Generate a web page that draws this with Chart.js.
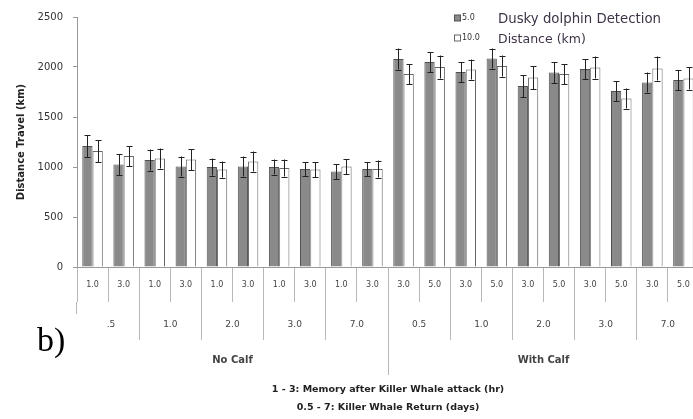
<!DOCTYPE html>
<html>
<head>
<meta charset="utf-8">
<script src="https://cdn.jsdelivr.net/npm/chart.js@4.4.1/dist/chart.umd.min.js"></script>
<style>
  html, body { margin: 0; padding: 0; background: #fff; overflow: hidden; width: 693px; height: 419px; }
  #wrap { position: relative; width: 700px; height: 419px; }
</style>
</head>
<body>
<div id="wrap"><canvas id="c" width="700" height="419"></canvas></div>
<script>
// Innermost axis level: memory after killer whale attack (hr)
const memoryHours = ['1.0','3.0','1.0','3.0','1.0','3.0','1.0','3.0','1.0','3.0',
                     '3.0','5.0','3.0','5.0','3.0','5.0','3.0','5.0','3.0','5.0'];
// Middle axis level: killer whale return (days)
const returnDays = ['0.5','1.0','2.0','3.0','7.0','0.5','1.0','2.0','3.0','7.0'];
// Outer axis level
const calfGroups = ['No Calf', 'With Calf'];

// Detection distance series (km)
const seriesLabels = ['5.0', '10.0'];
const dist5  = [1210, 1025, 1070, 1005, 1000, 1005, 1000, 980, 955, 980,
                2080, 2050, 1950, 2085, 1810, 1945, 1980, 1760, 1845, 1870];
const err5   = [110, 105, 105, 100, 85, 100, 75, 70, 75, 70,
                105, 100, 100, 100, 110, 105, 100, 100, 100, 100];
const dist10 = [1160, 1110, 1085, 1075, 975, 1055, 990, 975, 1005, 980,
                1930, 2000, 1975, 2010, 1895, 1930, 1995, 1685, 1985, 1885];
const err10  = [110, 100, 100, 105, 80, 100, 85, 75, 75, 85,
                100, 115, 100, 105, 115, 100, 110, 100, 120, 110];

const yTicks = [0, 500, 1000, 1500, 2000, 2500];
const legendTitle = ['Dusky dolphin Detection', 'Distance (km)'];
const yTitle = 'Distance Travel (km)';
const xTitle = ['1 - 3: Memory after Killer Whale attack (hr)', '0.5 - 7: Killer Whale Return (days)'];
const panelTag = 'b)';

const FONT = '"DejaVu Sans", sans-serif';

// Symmetric error bars on each bar, from the dataset's own errors array
const errorBars = {
  id: 'errorBars',
  afterDatasetsDraw(chart) {
    const { ctx } = chart;
    const y = chart.scales.y;
    ctx.save();
    ctx.strokeStyle = '#222';
    ctx.lineWidth = 1;
    chart.data.datasets.forEach((ds, di) => {
      const meta = chart.getDatasetMeta(di);
      meta.data.forEach((bar, i) => {
        const v = ds.data[i], e = ds.errors[i];
        const x = Math.round(bar.x) + 0.5;
        const yt = y.getPixelForValue(v + e);
        const yb = y.getPixelForValue(v - e);
        ctx.beginPath();
        ctx.moveTo(x, yt); ctx.lineTo(x, yb);
        ctx.moveTo(x - 3, Math.round(yt) + 0.5); ctx.lineTo(x + 3, Math.round(yt) + 0.5);
        ctx.moveTo(x - 3, Math.round(yb) + 0.5); ctx.lineTo(x + 3, Math.round(yb) + 0.5);
        ctx.stroke();
      });
    });
    ctx.restore();
  }
};

// Legend in the top right, plus the panel tag
const annotations = {
  id: 'annotations',
  afterDraw(chart) {
    const { ctx } = chart;
    ctx.save();
    const ds = chart.data.datasets;
    const rows = [18, 38];
    ds.forEach((d, i) => {
      ctx.fillStyle = d.backgroundColor;
      ctx.strokeStyle = d.borderColor;
      ctx.lineWidth = 1;
      ctx.fillRect(454.5, rows[i] - 3, 6, 6);
      ctx.strokeRect(454.5, rows[i] - 3, 6, 6);
      ctx.fillStyle = '#333';
      ctx.font = '8px ' + FONT;
      ctx.textBaseline = 'middle';
      ctx.textAlign = 'left';
      ctx.fillText(d.label, 462, rows[i]);
    });
    ctx.fillStyle = '#3f3448';
    ctx.font = '13.3px ' + FONT;
    ctx.fillText(legendTitle[0], 498, 20);
    ctx.font = '12.5px ' + FONT;
    ctx.fillText(legendTitle[1], 498, 40);

    ctx.fillStyle = '#fff';
    ctx.fillRect(0, 314, 106, 63);
    ctx.fillStyle = '#000';
    ctx.font = '34px "Liberation Serif", serif';
    ctx.textBaseline = 'alphabetic';
    ctx.fillText(panelTag, 37, 351);
    ctx.restore();
  }
};

const gridCol = '#b8b8b8';

new Chart(document.getElementById('c'), {
  type: 'bar',
  data: {
    labels: memoryHours,
    datasets: [
      { label: seriesLabels[0], data: dist5, errors: err5,
        backgroundColor: '#8a8a8a', borderColor: '#505050', borderWidth: 1 },
      { label: seriesLabels[1], data: dist10, errors: err10,
        backgroundColor: '#ffffff', borderColor: '#666', borderWidth: 1 }
    ]
  },
  options: {
    responsive: false,
    animation: false,
    devicePixelRatio: 1,
    layout: { padding: { top: 17, right: 1, left: 0, bottom: 0 } },
    categoryPercentage: 0.66,
    barPercentage: 1.0,
    plugins: { legend: { display: false }, tooltip: { enabled: false } },
    scales: {
      y: {
        min: 0, max: 2500,
        afterBuildTicks: (s) => { s.ticks = yTicks.map(v => ({ value: v })); },
        afterFit: (s) => { s.width = 77; },
        ticks: { padding: 10, color: '#333', font: { family: FONT, size: 10 },
                 callback: (v) => String(v) },
        grid: { drawOnChartArea: false, tickLength: 4, color: '#999' },
        border: { color: '#999' },
        title: { display: true, text: yTitle, color: '#222', padding: { top: 15, bottom: 0 },
                 font: { family: FONT, size: 10, weight: 'bold' } }
      },
      x: {
        type: 'category', position: 'bottom', weight: 1, offset: true,
        afterFit: (s) => { s.height = 35; },
        ticks: { padding: -22, color: '#444', maxRotation: 0, autoSkip: false,
                 font: { family: FONT, size: 8 } },
        grid: { offset: true, drawOnChartArea: false, tickLength: 35, color: gridCol },
        border: { color: '#999' }
      },
      x2: {
        type: 'category', position: 'bottom', weight: 2, offset: true, labels: returnDays,
        afterFit: (s) => { s.height = 38; },
        ticks: { padding: -21, color: '#444', maxRotation: 0, autoSkip: false,
                 font: { family: FONT, size: 9 } },
        grid: { offset: true, drawOnChartArea: false, tickLength: 38, color: gridCol },
        border: { display: false }
      },
      x3: {
        type: 'category', position: 'bottom', weight: 3, offset: true, labels: calfGroups,
        afterFit: (s) => { s.height = 79; },
        ticks: { padding: -21, color: '#444', maxRotation: 0, autoSkip: false,
                 font: { family: FONT, size: 10, weight: 'bold' } },
        grid: { offset: true, drawOnChartArea: false, tickLength: 35, color: gridCol },
        border: { display: false },
        title: { display: true, text: xTitle, color: '#222', padding: { top: 0, bottom: 2 },
                 font: { family: FONT, size: 9.5, weight: 'bold', lineHeight: '18px' } }
      }
    }
  },
  plugins: [errorBars, annotations]
});
</script>
</body>
</html>
